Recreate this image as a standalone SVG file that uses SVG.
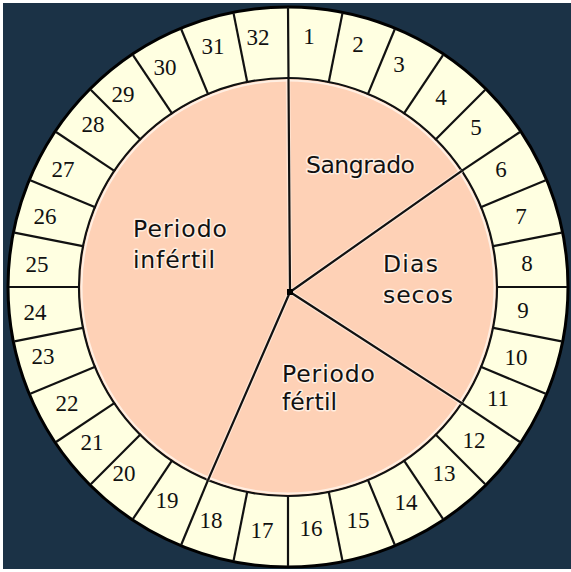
<svg xmlns="http://www.w3.org/2000/svg" xmlns:xlink="http://www.w3.org/1999/xlink" width="571" height="572" viewBox="0 0 571 572">
<style>
.lbl{font-family:"DejaVu Sans","Liberation Sans",sans-serif;font-size:23.5px;fill:#111;stroke:#fff8f0;stroke-width:3;stroke-opacity:0.75;stroke-linejoin:round;paint-order:stroke}
.num{font-family:"Liberation Serif","DejaVu Serif",serif;font-size:23px;fill:#111;text-anchor:middle}
.div{stroke:#111;stroke-width:2.2}
.spoke{stroke:#111;stroke-width:2.2;fill:none}
.halo{stroke:#fff4ea;stroke-width:4.5;stroke-opacity:0.6;fill:none}
</style>
<defs>
<line id="d" class="div" x1="288" y1="79" x2="288" y2="8"/>
</defs>
<rect x="0" y="0" width="571" height="572" fill="#ffffff"/>
<rect x="3" y="3" width="568" height="566" fill="#1b3246"/>
<g id="ring">
<circle cx="288" cy="287" r="280" fill="#ffffe1" stroke="#000" stroke-width="3"/>
<circle cx="288" cy="287" r="209" fill="#fed1b6" stroke="#111" stroke-width="2.2"/>
<circle cx="288" cy="287" r="206.5" fill="none" stroke="#fff6ee" stroke-width="2" stroke-opacity="0.8"/>
<g id="dividers">
<use xlink:href="#d" transform="rotate(11.25 288 287)"/>
<use xlink:href="#d" transform="rotate(22.5 288 287)"/>
<use xlink:href="#d" transform="rotate(33.75 288 287)"/>
<use xlink:href="#d" transform="rotate(45 288 287)"/>
<use xlink:href="#d" transform="rotate(56.25 288 287)"/>
<use xlink:href="#d" transform="rotate(67.5 288 287)"/>
<use xlink:href="#d" transform="rotate(78.75 288 287)"/>
<use xlink:href="#d" transform="rotate(90 288 287)"/>
<use xlink:href="#d" transform="rotate(101.25 288 287)"/>
<use xlink:href="#d" transform="rotate(112.5 288 287)"/>
<use xlink:href="#d" transform="rotate(123.75 288 287)"/>
<use xlink:href="#d" transform="rotate(135 288 287)"/>
<use xlink:href="#d" transform="rotate(146.25 288 287)"/>
<use xlink:href="#d" transform="rotate(157.5 288 287)"/>
<use xlink:href="#d" transform="rotate(168.75 288 287)"/>
<use xlink:href="#d" transform="rotate(180 288 287)"/>
<use xlink:href="#d" transform="rotate(191.25 288 287)"/>
<use xlink:href="#d" transform="rotate(202.5 288 287)"/>
<use xlink:href="#d" transform="rotate(213.75 288 287)"/>
<use xlink:href="#d" transform="rotate(225 288 287)"/>
<use xlink:href="#d" transform="rotate(236.25 288 287)"/>
<use xlink:href="#d" transform="rotate(247.5 288 287)"/>
<use xlink:href="#d" transform="rotate(258.75 288 287)"/>
<use xlink:href="#d" transform="rotate(270 288 287)"/>
<use xlink:href="#d" transform="rotate(281.25 288 287)"/>
<use xlink:href="#d" transform="rotate(292.5 288 287)"/>
<use xlink:href="#d" transform="rotate(303.75 288 287)"/>
<use xlink:href="#d" transform="rotate(315 288 287)"/>
<use xlink:href="#d" transform="rotate(326.25 288 287)"/>
<use xlink:href="#d" transform="rotate(337.5 288 287)"/>
<use xlink:href="#d" transform="rotate(348.75 288 287)"/>
</g>
</g>
<g id="connectors">
<path class="halo" d="M290 292 L288 79 M290 292 L461.8 170.9 M290 292 L461.8 403.1 M290 292 L208 480.1"/>
<path class="spoke" d="M290 292 L288 7 M290 292 L461.8 170.9 M290 292 L461.8 403.1 M290 292 L208 480.1"/>
<rect x="287" y="289" width="6" height="6" fill="#000"/>
</g>
<g id="numbers">
<text class="num" x="309" y="44">1</text>
<text class="num" x="358" y="52">2</text>
<text class="num" x="399" y="72">3</text>
<text class="num" x="441" y="105">4</text>
<text class="num" x="476" y="135">5</text>
<text class="num" x="501" y="177">6</text>
<text class="num" x="521" y="224">7</text>
<text class="num" x="527" y="271">8</text>
<text class="num" x="523" y="318">9</text>
<text class="num" x="516" y="365">10</text>
<text class="num" x="498" y="406">11</text>
<text class="num" x="474" y="448">12</text>
<text class="num" x="444" y="481">13</text>
<text class="num" x="406" y="510">14</text>
<text class="num" x="358" y="528">15</text>
<text class="num" x="311" y="536">16</text>
<text class="num" x="262" y="538">17</text>
<text class="num" x="211" y="528">18</text>
<text class="num" x="167" y="508">19</text>
<text class="num" x="124" y="481">20</text>
<text class="num" x="92" y="450">21</text>
<text class="num" x="67" y="411">22</text>
<text class="num" x="43" y="364">23</text>
<text class="num" x="35" y="320">24</text>
<text class="num" x="37" y="272">25</text>
<text class="num" x="45" y="224">26</text>
<text class="num" x="63" y="177">27</text>
<text class="num" x="93" y="132">28</text>
<text class="num" x="123" y="102">29</text>
<text class="num" x="165" y="75">30</text>
<text class="num" x="213" y="54">31</text>
<text class="num" x="258" y="45">32</text>
</g>
<g id="sangrado">
<text class="lbl" x="306" y="173" textLength="109" lengthAdjust="spacing">Sangrado</text>
</g>
<g id="dias-secos">
<text class="lbl" x="383" y="272" textLength="55" lengthAdjust="spacing">Dias</text>
<text class="lbl" x="383" y="303" textLength="70" lengthAdjust="spacing">secos</text>
</g>
<g id="periodo-infertil">
<text class="lbl" x="133" y="237" textLength="94" lengthAdjust="spacing">Periodo</text>
<text class="lbl" x="133" y="268" textLength="82" lengthAdjust="spacing">infértil</text>
</g>
<g id="periodo-fertil">
<text class="lbl" x="282" y="382" textLength="93" lengthAdjust="spacing">Periodo</text>
<text class="lbl" x="282" y="410" textLength="55" lengthAdjust="spacing">fértil</text>
</g>
</svg>
